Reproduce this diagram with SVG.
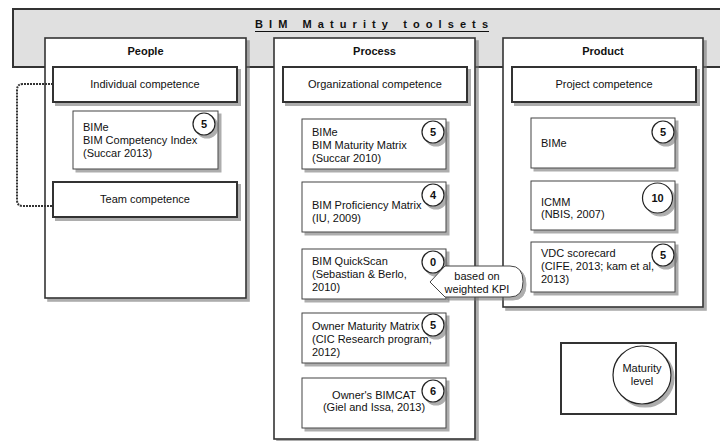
<svg xmlns="http://www.w3.org/2000/svg" width="720" height="441" viewBox="0 0 720 441">
<defs>
<filter id="sh" x="-20%" y="-20%" width="140%" height="140%">
<feDropShadow dx="3" dy="3" stdDeviation="0.6" flood-color="#777" flood-opacity="0.6"/>
</filter>
<style>
text{font-family:"Liberation Sans",Arial,Helvetica,sans-serif;fill:#111;font-size:11px}
.hd{font-weight:bold;text-anchor:middle}
.c{text-anchor:middle}
.num{font-weight:bold;text-anchor:middle;font-size:11px}
.banner{fill:#e0e0e0;stroke:#333;stroke-width:2}
.outer{fill:#fff;stroke:#333;stroke-width:1.6}
.comp{fill:#fff;stroke:#333;stroke-width:2}
.item{fill:#fff;stroke:#444;stroke-width:1}
.circ{fill:#fff;stroke:#222;stroke-width:1.2}
.shadow{filter:url(#sh)}
.conn{fill:none;stroke:#333;stroke-width:2;stroke-dasharray:2 1}
</style>
</defs>
<g id="banner">
<rect class="banner" x="13" y="9" width="720" height="58"/>
<text x="255" y="28" font-weight="bold" font-size="13.5" textLength="233" lengthAdjust="spacing">BIM Maturity toolsets</text>
<line x1="255" y1="31.5" x2="489" y2="31.5" stroke="#111" stroke-width="1.2"/>
</g>
<g id="people">
<rect class="outer shadow" x="45" y="38" width="201" height="260"/>
<text class="hd" x="145.5" y="55">People</text>
</g>
<g id="process">
<rect class="outer shadow" x="274" y="38" width="201" height="401"/>
<text class="hd" x="374.5" y="55">Process</text>
</g>
<g id="product">
<rect class="outer shadow" x="503" y="38" width="200" height="269"/>
<text class="hd" x="603" y="55">Product</text>
</g>
<g id="connectors">
<path class="conn" d="M53 84 H23 Q17 84 17 90 V200 Q17 206 23 206 H53"/>
</g>
<g id="individual-competence">
<rect class="comp shadow" x="53" y="67" width="184" height="35"/>
<text class="c" x="145" y="88">Individual competence</text>
</g>
<g id="team-competence">
<rect class="comp shadow" x="53" y="182" width="184" height="35"/>
<text class="c" x="145" y="203">Team competence</text>
</g>
<g id="organizational-competence">
<rect class="comp shadow" x="283" y="67" width="184" height="35"/>
<text class="c" x="375" y="88">Organizational competence</text>
</g>
<g id="project-competence">
<rect class="comp shadow" x="512" y="67" width="184" height="35"/>
<text class="c" x="604" y="88">Project competence</text>
</g>
<g id="bime-competency">
<rect class="item shadow" x="73" y="111" width="145" height="58"/>
<text x="83" y="131">BIMe</text>
<text x="83" y="144">BIM Competency Index</text>
<text x="83" y="157">(Succar 2013)</text>
<circle class="circ shadow" cx="204" cy="124" r="11"/>
<text class="num" x="204" y="128">5</text>
</g>
<g id="bime-maturity-matrix">
<rect class="item shadow" x="302" y="119" width="144" height="50"/>
<text x="312" y="136">BIMe</text>
<text x="312" y="149">BIM Maturity Matrix</text>
<text x="312" y="162">(Succar 2010)</text>
<circle class="circ shadow" cx="433" cy="132" r="11"/>
<text class="num" x="433" y="136">5</text>
</g>
<g id="bim-proficiency">
<rect class="item shadow" x="302" y="182" width="144" height="50"/>
<text x="312" y="209">BIM Proficiency Matrix</text>
<text x="312" y="222">(IU, 2009)</text>
<circle class="circ shadow" cx="433" cy="195" r="11"/>
<text class="num" x="433" y="199">4</text>
</g>
<g id="bim-quickscan">
<rect class="item shadow" x="302" y="249" width="144" height="50"/>
<text x="312" y="265">BIM QuickScan</text>
<text x="312" y="278">(Sebastian &amp; Berlo,</text>
<text x="312" y="291">2010)</text>
<circle class="circ shadow" cx="433" cy="262" r="11"/>
<text class="num" x="433" y="266">0</text>
</g>
<g id="owner-maturity">
<rect class="item shadow" x="302" y="313" width="144" height="50"/>
<text x="312" y="330">Owner Maturity Matrix</text>
<text x="312" y="343">(CIC Research program,</text>
<text x="312" y="356">2012)</text>
<circle class="circ shadow" cx="433" cy="325" r="11"/>
<text class="num" x="433" y="329">5</text>
</g>
<g id="owners-bimcat">
<rect class="item shadow" x="302" y="378" width="144" height="50"/>
<text class="c" x="374" y="399">Owner's BIMCAT</text>
<text class="c" x="374" y="411">(Giel and Issa, 2013)</text>
<circle class="circ shadow" cx="433" cy="391" r="11"/>
<text class="num" x="433" y="395">6</text>
</g>
<g id="weighted-kpi-note">
<path class="item shadow" d="M445 266 H510 Q523 266 523 281.5 Q523 297 510 297 H445 L430 282 Z"/>
<text class="c" x="477" y="280">based on</text>
<text class="c" x="477" y="293">weighted KPI</text>
</g>
<g id="product-bime">
<rect class="item shadow" x="531" y="118" width="144" height="50"/>
<text x="541" y="147">BIMe</text>
<circle class="circ shadow" cx="663" cy="132" r="11"/>
<text class="num" x="663" y="136">5</text>
</g>
<g id="icmm">
<rect class="item shadow" x="531" y="181" width="144" height="49"/>
<text x="541" y="206">ICMM</text>
<text x="541" y="218">(NBIS, 2007)</text>
<circle class="circ shadow" cx="657.5" cy="198" r="15"/>
<text class="num" x="657.5" y="202">10</text>
</g>
<g id="vdc-scorecard">
<rect class="item shadow" x="531" y="242" width="144" height="50"/>
<text x="541" y="257">VDC scorecard</text>
<text x="541" y="270">(CIFE, 2013; kam et al,</text>
<text x="541" y="283">2013)</text>
<circle class="circ shadow" cx="663" cy="255" r="11"/>
<text class="num" x="663" y="259">5</text>
</g>
<g id="legend">
<rect x="561" y="343" width="115" height="71" fill="#fff" stroke="#333" stroke-width="2"/>
<circle class="circ shadow" cx="642" cy="375" r="29"/>
<text class="c" x="642" y="372">Maturity</text>
<text class="c" x="642" y="385">level</text>
</g>
</svg>
